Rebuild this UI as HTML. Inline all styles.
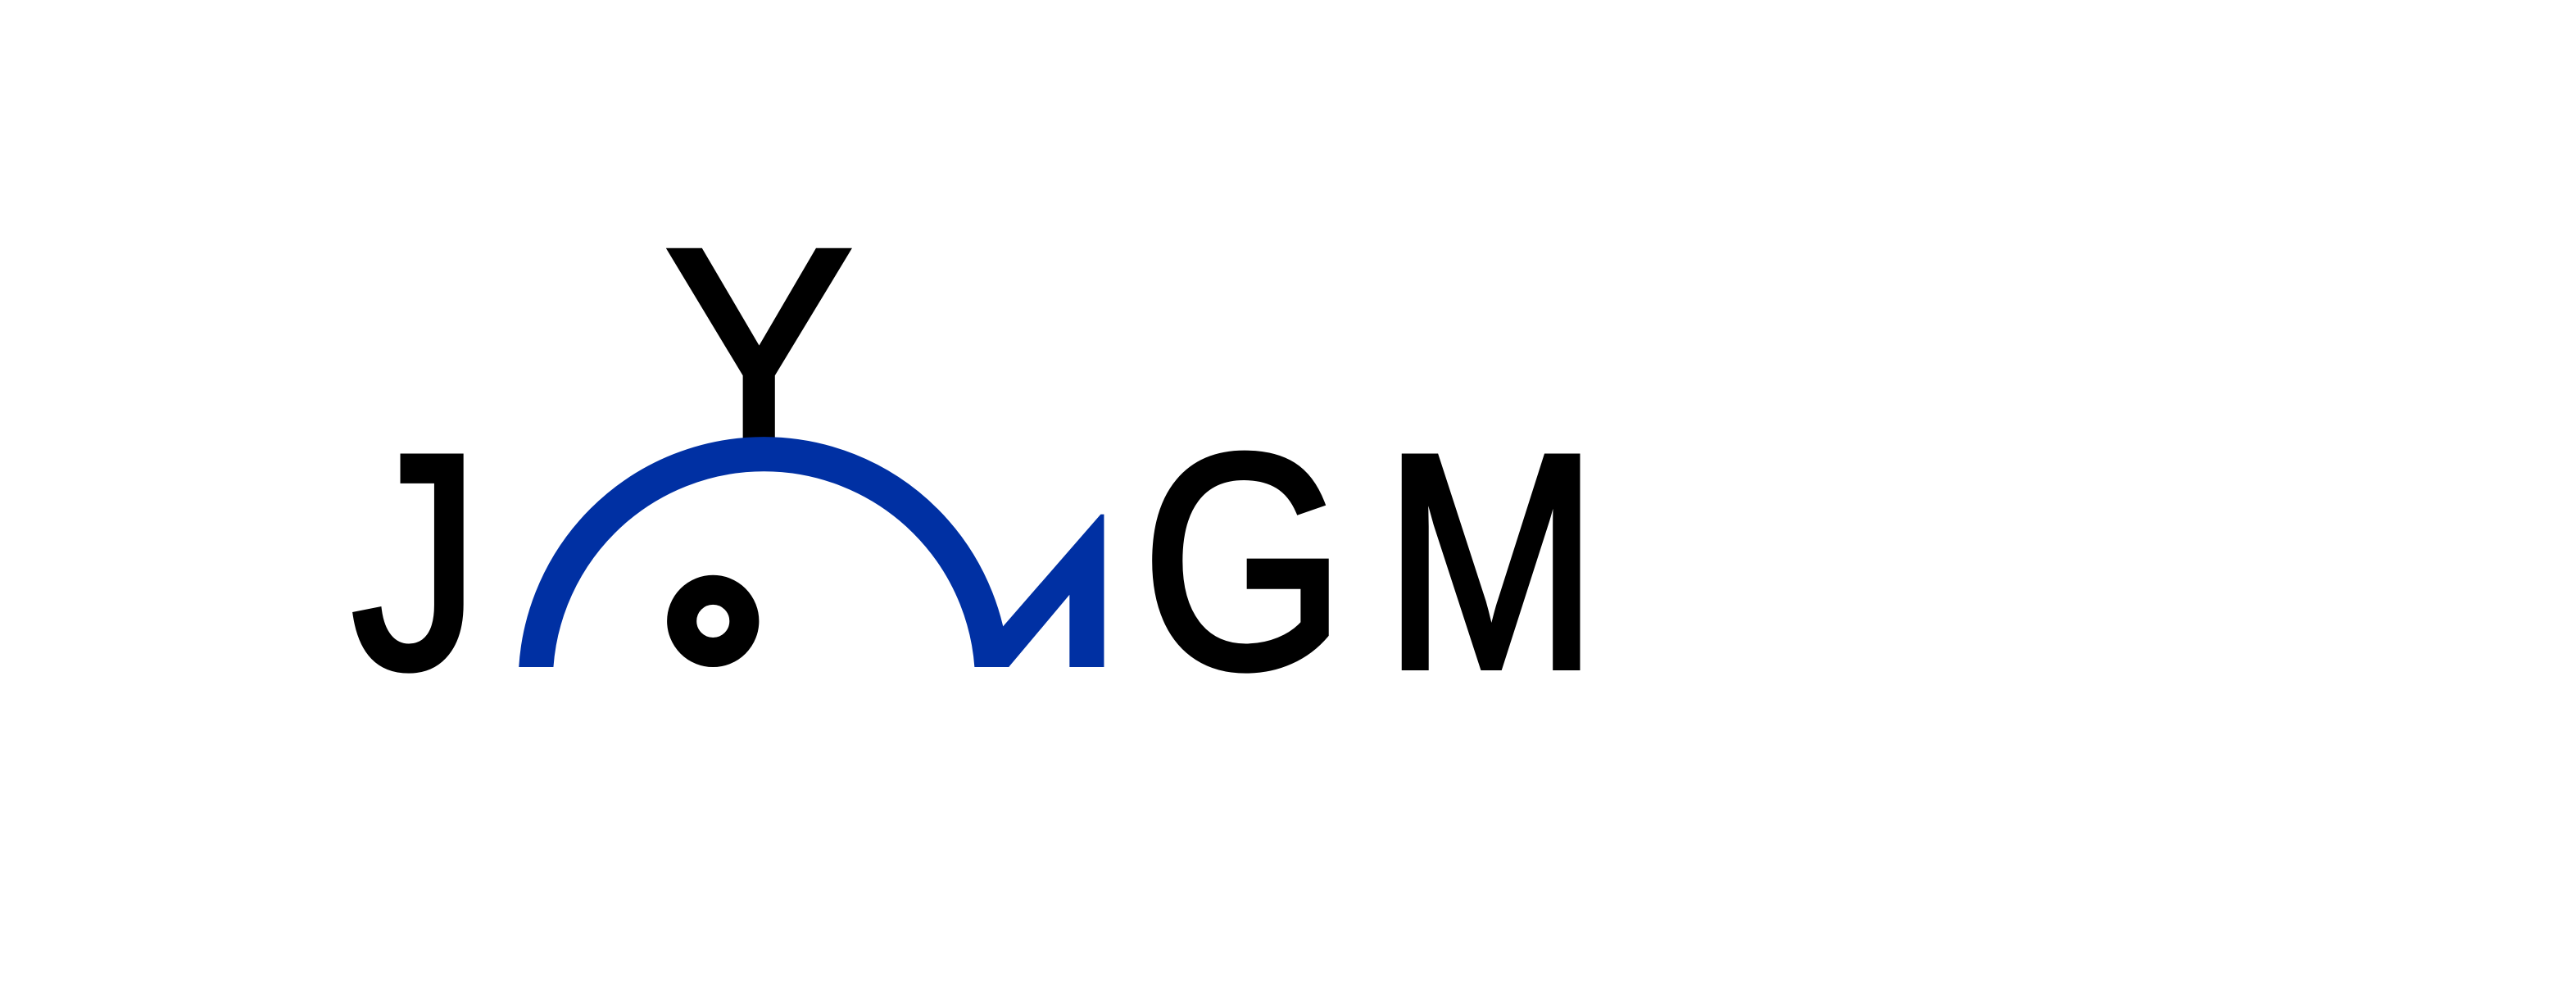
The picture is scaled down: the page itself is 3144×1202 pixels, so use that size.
<!DOCTYPE html>
<html><head><meta charset="utf-8"><style>
html,body{margin:0;padding:0;background:#fff;}
svg{display:block;}
text{font-family:"Liberation Sans",sans-serif;fill:#000;stroke:#000;stroke-width:4;}
</style></head><body>
<svg width="3144" height="1202" viewBox="0 0 1568 599.5" xmlns="http://www.w3.org/2000/svg">
<defs>
<clipPath id="yclip"><rect x="380" y="130" width="160" height="137"/></clipPath>
<clipPath id="arcclip"><rect x="300" y="250" width="330" height="156"/></clipPath>
</defs>
<rect width="1568" height="600" fill="#fff"/>
<text x="214" y="406" font-size="186" textLength="78" lengthAdjust="spacingAndGlyphs">J</text>
<g clip-path="url(#yclip)">
<text x="405" y="281" font-size="186" textLength="114" lengthAdjust="spacingAndGlyphs">Y</text>
</g>
<g clip-path="url(#arcclip)">
<circle cx="465" cy="415.4" r="139" fill="none" stroke="#0030a3" stroke-width="21"/>
</g>
<polygon fill="#0030a3" points="609,383 670,313 672,313 672,406 651,406 651,362 614,406 603,406"/>
<circle cx="434" cy="378" r="19" fill="none" stroke="#000" stroke-width="18"/>
<text x="695" y="406" font-size="186" textLength="124" lengthAdjust="spacingAndGlyphs">G</text>
<text x="842" y="406" font-size="186" textLength="131" lengthAdjust="spacingAndGlyphs">M</text>
</svg>
</body></html>
